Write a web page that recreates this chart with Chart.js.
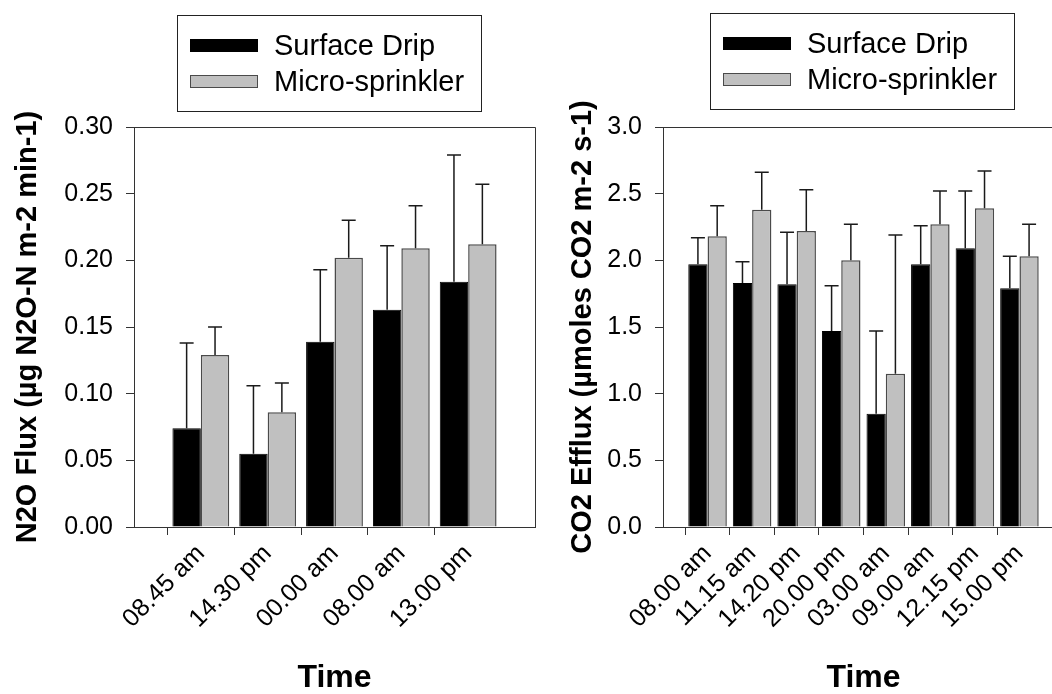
<!DOCTYPE html>
<html>
<head>
<meta charset="utf-8">
<script src="https://cdn.jsdelivr.net/npm/chart.js@4"></script>
<style>
  html, body { margin: 0; padding: 0; background: #fff; }
  #wrap { position: relative; width: 1052px; height: 694px; overflow: hidden; background: #fff; }
  #c1 { position: absolute; left: 0; top: 0; }
  #c2 { position: absolute; left: 545px; top: 0; }
</style>
</head>
<body>
<div id="wrap">
  <canvas id="c1" width="545" height="694"></canvas>
  <canvas id="c2" width="530" height="694"></canvas>
</div>
<script>
// ---------- data ----------
const seriesNames = ['Surface Drip', 'Micro-sprinkler'];

// N2O chart
const n2oTimes = ['08.45 am', '14.30 pm', '00.00 am', '08.00 am', '13.00 pm'];
const n2oDrip = [0.074, 0.055, 0.139, 0.163, 0.184];
const n2oDripErr = [0.064, 0.051, 0.054, 0.048, 0.095];
const n2oMicro = [0.129, 0.086, 0.202, 0.209, 0.212];
const n2oMicroErr = [0.021, 0.022, 0.028, 0.032, 0.045];
const n2oTitle = 'N2O Flux (\u00b5g N2O-N m-2 min-1)';

// CO2 chart
const co2Times = ['08.00 am', '11.15 am', '14.20 pm', '20.00 pm', '03.00 am', '09.00 am', '12.15 pm', '15.00 pm'];
const co2Drip = [1.97, 1.83, 1.82, 1.47, 0.85, 1.97, 2.09, 1.79];
const co2DripErr = [0.20, 0.16, 0.39, 0.34, 0.62, 0.29, 0.43, 0.24];
const co2Micro = [2.18, 2.38, 2.22, 2.00, 1.15, 2.27, 2.39, 2.03];
const co2MicroErr = [0.23, 0.28, 0.31, 0.27, 1.04, 0.25, 0.28, 0.24];
const co2Title = 'CO2 Efflux (\u00b5moles CO2 m-2 s-1)';

const xTitle = 'Time';

// ---------- helpers ----------
Chart.defaults.font.family = '"Liberation Sans", Arial, Helvetica, sans-serif';
Chart.defaults.color = '#000';
Chart.defaults.animation = false;

const pad = arr => [null, ...arr, null];
const padLabels = arr => ['', ...arr, ''];

const errorBars = {
  id: 'errorBars',
  afterDatasetsDraw(chart, args, o) {
    const ctx = chart.ctx;
    const yScale = chart.scales.y;
    chart.data.datasets.forEach((ds, di) => {
      const meta = chart.getDatasetMeta(di);
      meta.data.forEach((bar, i) => {
        const v = ds.data[i], e = ds.errors ? ds.errors[i] : null;
        if (v == null || e == null) return;
        const yTop = yScale.getPixelForValue(v + e);
        ctx.save();
        ctx.strokeStyle = o.color;
        ctx.lineWidth = o.width;
        ctx.beginPath();
        ctx.moveTo(bar.x, bar.y);
        ctx.lineTo(bar.x, yTop);
        ctx.moveTo(bar.x - o.cap, yTop);
        ctx.lineTo(bar.x + o.cap, yTop);
        ctx.stroke();
        ctx.restore();
      });
    });
  }
};

const frame = {
  id: 'frame',
  afterDraw(chart, args, o) {
    const {ctx, chartArea: a} = chart;
    ctx.save();
    ctx.strokeStyle = o.color;
    ctx.lineWidth = 1;
    ctx.beginPath();
    ctx.moveTo(a.left, Math.round(a.top) + 0.5);
    ctx.lineTo(Math.round(a.right) + 0.5, Math.round(a.top) + 0.5);
    ctx.lineTo(Math.round(a.right) + 0.5, a.bottom);
    ctx.stroke();
    ctx.restore();
  }
};

const boxLegend = {
  id: 'boxLegend',
  afterDraw(chart, args, o) {
    const ctx = chart.ctx;
    ctx.save();
    ctx.lineWidth = 1;
    ctx.strokeStyle = '#222';
    ctx.strokeRect(o.x + 0.5, o.y + 0.5, o.w, o.h);
    ctx.font = o.font;
    ctx.textBaseline = 'alphabetic';
    ctx.textAlign = 'left';
    chart.data.datasets.forEach((ds, i) => {
      const sy = o.y + o.swatchTop + i * o.rowGap;
      ctx.fillStyle = ds.backgroundColor;
      ctx.fillRect(o.x + o.swatchLeft, sy, o.swatchW, o.swatchH);
      ctx.strokeStyle = ds.borderColor;
      ctx.lineWidth = 1;
      ctx.strokeRect(o.x + o.swatchLeft + 0.5, sy + 0.5, o.swatchW - 1, o.swatchH - 1);
      ctx.fillStyle = '#000';
      ctx.fillText(ds.label, o.x + o.textLeft, o.y + o.baseline + i * o.rowGap);
    });
    ctx.restore();
  }
};

function makeChart(id, times, drip, dripErr, micro, microErr, yMax, yStep, dec, yTitleText,
                   yAxisWidth, padRight, yTitlePad, catPct, legendX, legendY) {
  const n = times.length + 2;
  return new Chart(document.getElementById(id), {
    type: 'bar',
    data: {
      labels: padLabels(times),
      datasets: [
        { label: seriesNames[0], data: pad(drip), errors: pad(dripErr),
          backgroundColor: '#000000', borderColor: '#000000', borderWidth: 1,
          categoryPercentage: catPct, barPercentage: 1.0 },
        { label: seriesNames[1], data: pad(micro), errors: pad(microErr),
          backgroundColor: '#c0c0c0', borderColor: '#4a4a4a', borderWidth: 1.5,
          categoryPercentage: catPct, barPercentage: 1.0 }
      ]
    },
    options: {
      responsive: false,
      maintainAspectRatio: false,
      layout: { padding: { top: 127, right: padRight, bottom: 0, left: 0 } },
      plugins: {
        legend: { display: false },
        tooltip: { enabled: false },
        errorBars: { color: '#1a1a1a', width: 1.5, cap: 7 },
        frame: { color: '#333' },
        boxLegend: { x: legendX, y: legendY, w: 304, h: 96, font: '29px "Liberation Sans", Arial, sans-serif',
                     swatchLeft: 13, swatchTop: 24, swatchW: 68, swatchH: 13, rowGap: 36, textLeft: 97, baseline: 40 }
      },
      scales: {
        x: {
          type: 'category',
          offset: false,
          afterFit: s => { s.height = 167; s.paddingLeft = 0; s.paddingRight = 0; },
          grid: { display: true, drawOnChartArea: false, drawTicks: true, tickLength: 8,
                  tickColor: c => (c.index === 0 || c.index === n - 1) ? 'rgba(0,0,0,0)' : '#333', lineWidth: 1 },
          border: { display: true, color: '#333', width: 1 },
          ticks: { autoSkip: false, maxRotation: 45, minRotation: 45, padding: 4,
                   font: { size: 25 }, color: '#000' },
          title: { display: true, text: xTitle, font: { size: 32, weight: 'bold', lineHeight: 1 },
                   color: '#000', padding: { top: 0, bottom: 0 } }
        },
        y: {
          min: 0, max: yMax,
          afterFit: s => { s.width = yAxisWidth; s.paddingTop = 0; s.paddingBottom = 0; },
          grid: { display: true, drawOnChartArea: false, drawTicks: true, tickLength: 8, tickColor: '#333', lineWidth: 1 },
          border: { display: true, color: '#333', width: 1 },
          ticks: { stepSize: yStep, padding: 13, font: { size: 25 }, color: '#000',
                   callback: v => Number(v).toFixed(dec) },
          title: { display: true, text: yTitleText, font: { size: 29, weight: 'bold', lineHeight: 1.2 },
                   color: '#000', padding: { top: yTitlePad, bottom: 0 } }
        }
      }
    },
    plugins: [errorBars, frame, boxLegend]
  });
}

makeChart('c1', n2oTimes, n2oDrip, n2oDripErr, n2oMicro, n2oMicroErr, 0.30, 0.05, 2, n2oTitle,
          134, 10, 11, 0.85, 177, 15);
makeChart('c2', co2Times, co2Drip, co2DripErr, co2Micro, co2MicroErr, 3.0, 0.5, 1, co2Title,
          118, 11, 21, 0.865, 165, 13);
</script>
</body>
</html>
